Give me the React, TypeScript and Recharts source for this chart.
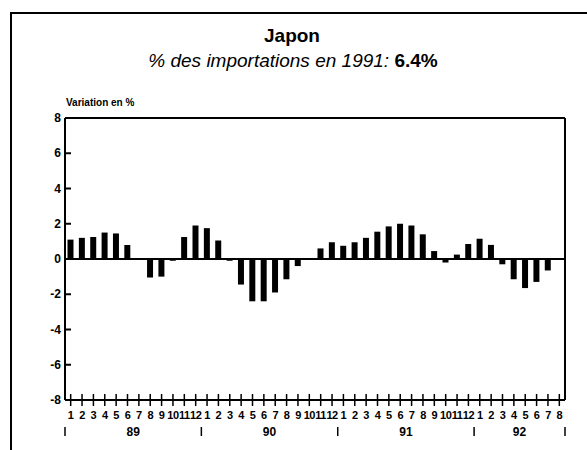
import { BarChart, Bar, XAxis, YAxis, ReferenceLine } from 'recharts'

const years = ['89', '90', '91', '92']
const values89 = [1.1, 1.2, 1.25, 1.5, 1.45, 0.8, 0.05, -1.05, -1.0, -0.1, 1.25, 1.9]
const values90 = [1.75, 1.05, -0.1, -1.45, -2.4, -2.4, -1.9, -1.15, -0.4, 0.05, 0.6, 0.95]
const values91 = [0.75, 0.95, 1.2, 1.55, 1.85, 2.0, 1.9, 1.4, 0.45, -0.2, 0.25, 0.85]
const values92 = [1.15, 0.8, -0.3, -1.15, -1.65, -1.3, -0.65, 0.05]
const yTicks = [-8, -6, -4, -2, 0, 2, 4, 6, 8]

const font = '"Liberation Sans", Arial, Helvetica, sans-serif'

const chartData = [values89, values90, values91, values92].flatMap((vals, yi) =>
  vals.map((v, mi) => ({
    key: `${years[yi]}-${mi + 1}`,
    month: mi + 1,
    first: mi === 0,
    last: yi === years.length - 1 && mi === vals.length - 1,
    yearLabel: mi === vals.length / 2 - 1 ? years[yi] : '',
    value: v,
  }))
)

const PLOT_W = 500
const HALF = PLOT_W / chartData.length / 2

function YTick({ x, y, payload }: any) {
  return (
    <g>
      <line x1={x} x2={x + 6} y1={y} y2={y} stroke="#000" strokeWidth={2} />
      <text x={x - 4} y={y + 4} textAnchor="end" fontSize={12} fontWeight="bold" fill="#000" fontFamily={font}>
        {payload.value}
      </text>
    </g>
  )
}

function XTick({ x, y, index }: any) {
  const d = chartData[index]
  if (!d) return null
  return (
    <g>
      <line x1={x} x2={x} y1={y - 6} y2={y + 6} stroke="#000" strokeWidth={1.5} />
      <text x={x} y={y + 19} textAnchor="middle" fontSize={11} fontWeight="bold" fill="#000" fontFamily={font} letterSpacing={-0.5}>
        {d.month}
      </text>
      {d.first && <line x1={x - HALF} x2={x - HALF} y1={y + 27} y2={y + 36} stroke="#000" strokeWidth={1.5} />}
      {d.last && <line x1={x + HALF} x2={x + HALF} y1={y + 27} y2={y + 36} stroke="#000" strokeWidth={1.5} />}
      {d.yearLabel && (
        <text x={x + HALF} y={y + 36} textAnchor="middle" fontSize={12} fontWeight="bold" fill="#000" fontFamily={font}>
          {d.yearLabel}
        </text>
      )}
    </g>
  )
}

export default function App() {
  return (
    <div style={{ position: 'absolute', left: 0, top: 0, width: 587, height: 450, overflow: 'hidden', background: '#fff', fontFamily: font }}>
      <div style={{ position: 'absolute', left: 10, top: 12, width: 600, height: 500, borderTop: '2px solid #000', borderLeft: '2px solid #000' }} />
      <div style={{ position: 'absolute', left: 0, width: 584, top: 25, textAlign: 'center', fontSize: 19, fontWeight: 'bold', color: '#000' }}>
        Japon
      </div>
      <div style={{ position: 'absolute', left: 0, width: 586, top: 50, textAlign: 'center', fontSize: 19, fontStyle: 'italic', color: '#000' }}>
        % des importations en 1991: <span style={{ fontStyle: 'normal', fontWeight: 'bold' }}>6.4%</span>
      </div>
      <div style={{ position: 'absolute', left: 66, top: 97, fontSize: 10, fontWeight: 'bold', color: '#000' }}>
        Variation en %
      </div>
      <div style={{ position: 'absolute', left: 0, top: 0 }}>
        <BarChart
          width={587}
          height={450}
          data={chartData}
          margin={{ top: 118, right: 21, bottom: 0, left: 25 }}
          barCategoryGap="22%"
        >
          <XAxis
            dataKey="key"
            interval={0}
            height={50}
            tickSize={0}
            tickMargin={0}
            tick={<XTick />}
            axisLine={{ stroke: '#000', strokeWidth: 2 }}
          />
          <YAxis
            yAxisId="left"
            domain={[-8, 8]}
            ticks={yTicks}
            width={40}
            tickSize={0}
            tickMargin={0}
            tick={<YTick />}
            axisLine={{ stroke: '#000', strokeWidth: 2 }}
            allowDataOverflow
          />
          <YAxis
            yAxisId="right"
            orientation="right"
            domain={[-8, 8]}
            width={1}
            tick={false}
            tickLine={false}
            axisLine={{ stroke: '#000', strokeWidth: 2 }}
          />
          <ReferenceLine yAxisId="left" y={8} stroke="#000" strokeWidth={2} />
          <ReferenceLine yAxisId="left" y={0} stroke="#000" strokeWidth={2} />
          <Bar yAxisId="left" dataKey="value" fill="#000" isAnimationActive={false} />
        </BarChart>
      </div>
    </div>
  )
}
